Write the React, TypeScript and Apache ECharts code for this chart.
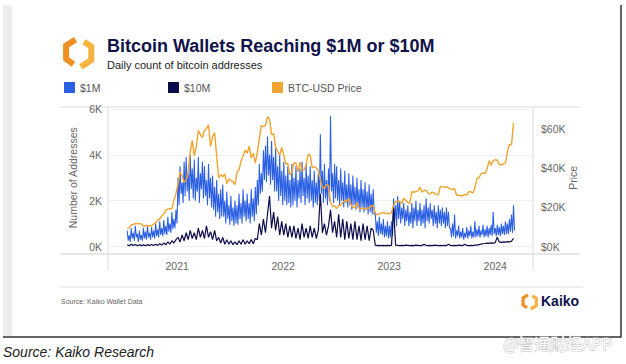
import React, { useEffect, useRef } from 'react';
import * as echarts from 'echarts';

// Weekly samples starting Monday 2020-07-13.
// $1M addresses: weekly high (early week) and weekly low (late week)
const blueHigh = [
  700, 500, 800, 600, 900, 550, 700, 500, 800, 650, 900, 600, 850, 700, 1000, 750, 1100, 800, 1150, 900, 1300, 1000, 1500, 1200, 1600,
  3000, 3500, 2800, 3700,
  3900, 3200, 4000, 3400,
  3800, 3000, 3900, 3200, 3700,
  3500, 2900, 3600, 3000,
  3100, 2600, 2900, 2300, 2500,
  2700, 2000, 2400, 1800, 2200, 1700, 2000, 1800, 2300, 1900, 2500, 2000, 2300, 1900, 2500, 2100, 2600,
  2900, 3600, 3200, 4200,
  4400, 4800, 4000, 4600, 3900,
  4300, 3500, 4000, 3300,
  3700, 3100, 3500, 2900,
  3600, 3000, 3500, 2900, 3400, 3700, 3000, 3600, 3100, 3500, 2900, 3300, 2800,
  3200, 4900, 3300, 3600, 2900,
  3400, 5700, 3200, 3600,
  3500, 2900, 3400, 2800, 3300, 2700, 3200, 2700, 3100, 2600, 3000, 2500, 2900, 2500, 2800, 2400, 2700, 2300,
  2500, 1500, 1100, 1300,
  1000, 1200, 900, 1100,
  900, 1100, 2100, 1800, 2200,
  2000, 1700, 1900, 1600, 1800, 1500, 1900, 1700, 2000, 1600, 1900, 1600, 1800, 2100, 1700, 1900, 1600, 1800, 1500, 1800, 1600, 1700, 1500, 1700, 1500,
  800, 1000, 1400, 700, 900, 650, 800, 600, 850, 700, 900, 650, 1100, 750, 900, 700, 950, 750, 900, 800, 950, 1500, 800, 950, 850, 1000, 900, 1100, 1000, 1200, 1400, 1800,
];
const blueLow = [
  250, 200, 350, 250, 400, 200, 300, 250, 350, 300, 400, 300, 400, 350, 450, 400, 500, 450, 550, 500, 650, 600, 750, 800, 1000,
  1800, 2300, 1900, 2200,
  2400, 2000, 2500, 2100,
  2000, 2400, 1900, 2500, 2100,
  2200, 1800, 2100, 1700,
  1600, 1300, 1500, 1200, 1300,
  1300, 1000, 1200, 950, 1100, 900, 1000, 950, 1200, 1000, 1300, 1100, 1200, 1000, 1300, 1100, 1400,
  1800, 2300, 2400, 2900,
  2800, 3100, 2700, 2900, 2400,
  2400, 2000, 2200, 1800,
  2000, 1800, 1900, 1700,
  1800, 2000, 1700, 2100, 1900, 2200, 1800, 2100, 1900, 2000, 1700, 1900, 1800,
  2000, 2300, 1900, 2100, 1800,
  2000, 2400, 1900, 2100,
  2000, 1800, 2000, 1700, 1900, 1700, 1800, 1600, 1800, 1600, 1700, 1500, 1700, 1500, 1600, 1400, 1500, 1400,
  1400, 600, 450, 550,
  500, 400, 450, 350,
  400, 450, 1100, 900, 1200,
  1000, 1200, 900, 1100, 900, 1000, 800, 1100, 900, 1100, 900, 1000, 800, 1100, 1000, 1200, 900, 1000, 800, 1000, 900, 1000, 800, 900, 800,
  400, 450, 350, 450, 350, 400, 300, 400, 350, 450, 350, 400, 400, 450, 400, 500, 400, 450, 400, 500, 450, 550, 450, 500, 450, 550, 500, 550, 550, 650, 600, 700,
];

// $10M addresses, weekly
const navyVals = [
  80, 30, 100, 40, 90, 30, 80, 40, 70, 30, 80, 40, 90, 40, 100, 50, 120, 60, 150, 80, 200, 100, 250, 150, 300,
  400, 200, 500, 250, 600, 300, 700, 350, 600, 300, 800, 400, 700, 350, 900, 400, 650, 300, 700, 250, 400, 150,
  400, 100, 300, 100, 250, 80, 200, 80, 250, 100, 300, 100, 250, 120, 300, 120, 350,
  300, 1000, 500, 1200, 600, 1400, 2200, 800, 1500, 700, 1300, 500, 1100, 500, 1000, 400, 900,
  400, 900, 350, 800, 300, 1000, 400, 800, 350, 900, 400, 800, 350,
  700, 2300, 600, 1000, 500, 900, 1600, 600, 1100,
  400, 1400, 400, 1200, 300, 1100, 350, 1000, 300, 1100, 300, 900, 250, 1000, 300, 900, 250, 800,
  700, 60, 40, 50, 40, 50, 40, 50, 40, 50, 1700,
  60, 50, 40, 50, 40, 60, 50, 40, 50, 40, 60, 50, 40, 50, 100, 50, 40, 50, 40, 60,
  50, 40, 50, 40, 50, 40, 100, 50, 40, 50, 40, 60, 50, 40, 100, 50, 40, 50, 40, 60,
  60, 80, 100, 120, 130, 150, 140, 160, 150, 170, 400, 200, 180, 200, 190, 210, 200, 230, 350,
];

// BTC-USD price, thousands of dollars, weekly
const priceVals = [
  9.2, 9.5, 11.0, 11.2, 11.6, 11.8, 11.5, 11.6, 10.3, 10.8, 10.5, 10.7, 10.6, 11.4, 12.0, 13.5, 14.0, 15.5, 16.5, 18.5, 19.0, 19.2, 19.3, 23.5, 27.0,
  32.0, 38.0, 36.0, 32.5, 34.0, 38.5, 48.0, 54.0, 46.0, 51.0, 59.0, 57.0, 55.5, 59.0, 60.0, 62.0, 51.0, 56.0, 58.0, 46.0, 35.0, 36.5,
  35.5, 37.0, 32.0, 34.5, 33.5, 33.0, 31.5, 38.0, 39.0, 43.5, 46.0, 49.0, 47.5, 51.0, 45.0, 47.5, 42.5,
  48.0, 55.0, 61.5, 61.0, 61.5, 66.0, 65.0, 57.0, 57.5, 50.5, 48.5, 46.5, 50.5,
  46.5, 42.0, 42.5, 36.5, 38.0, 42.5, 42.5, 38.0, 43.0, 38.5, 39.0, 41.5, 47.0, 46.5, 40.0, 40.5, 40.0,
  38.5, 34.0, 30.0, 29.5, 31.5, 31.0, 22.5, 20.5, 20.7,
  19.3, 20.8, 21.0, 22.5, 23.3, 23.2, 24.3, 21.4, 20.0, 19.8, 22.4, 19.4, 19.2, 19.6, 19.2, 19.5, 19.6, 20.6,
  20.9, 16.6, 16.3, 16.4, 17.1, 17.2, 16.8, 16.8,
  16.7, 17.4, 21.0, 22.8, 23.0, 22.9, 21.8, 24.6, 23.5, 22.4, 22.0, 28.0, 27.5, 28.1, 28.3, 30.3, 27.6, 28.5, 28.7, 27.0, 26.9, 27.7, 27.2, 26.4, 26.3, 30.5,
  30.5, 30.3, 30.3, 29.9, 29.2, 29.0, 29.4, 26.1, 26.1, 25.8, 25.8, 26.5, 26.2, 27.9, 27.9, 27.1, 30.0, 34.5, 35.0, 37.0, 37.4, 37.2, 39.5, 43.7, 41.4, 43.6,
  44.2, 43.9, 41.6, 41.6, 42.0, 42.6, 48.3, 52.0, 51.7, 63.0,
];

const seriesNames = ['$1M', '$10M', 'BTC-USD Price'];
const leftTicks = [0, 2000, 4000, 6000];
const rightTicks = [0, 20, 40, 60];
const X_MIN = '2020-05-08';
const X_MAX = '2024-05-10';

const DAY = 86400000;
const START_MS = Date.UTC(2020, 6, 13);
const weekStart = priceVals.map((_, i) => START_MS + i * 7 * DAY);

const BLUE = '#2b5fe3';
const NAVY = '#0c0c4a';
const ORANGE = '#f2a431';
const FONT = '"Liberation Sans", Arial, Helvetica, sans-serif';

export default function App() {
  const ref = useRef<HTMLDivElement>(null);
  useEffect(() => {
    if (!ref.current) return;
    const chart = echarts.init(ref.current, undefined, { renderer: 'svg' });

    const blueData: [number, number][] = [];
    weekStart.forEach((t, i) => {
      blueData.push([t, blueHigh[i]]);
      blueData.push([t + 3.5 * DAY, blueLow[i]]);
    });
    const navyData = weekStart.map((t, i) => [t, navyVals[i]]);
    const priceData = weekStart.map((t, i) => [t, priceVals[i]]);

    const legendBase = {
      orient: 'horizontal', icon: 'rect', itemWidth: 11, itemHeight: 11, itemGap: 6, top: 82, padding: 0,
      textStyle: { color: '#555', fontSize: 10.5, fontFamily: FONT }, selectedMode: false,
    };
    const hexLeft = (ox: number, oy: number, s: number) => [
      [ox + 11 * s, oy + 1.5 * s], [ox + 2 * s, oy + 7 * s], [ox + 2 * s, oy + 20 * s], [ox + 9 * s, oy + 25 * s],
    ];
    const hexRight = (ox: number, oy: number, s: number) => [
      [ox + 16 * s, oy + 27.5 * s], [ox + 26 * s, oy + 21 * s], [ox + 26 * s, oy + 8 * s], [ox + 19 * s, oy + 3.5 * s],
    ];
    const axisText = { color: '#666', fontSize: 10.5, fontFamily: FONT };
    const option: any = {
      animation: false,
      backgroundColor: '#ffffff',
      textStyle: { fontFamily: FONT },
      legend: [
        { ...legendBase, left: 64, data: [seriesNames[0]] },
        { ...legendBase, left: 168, data: [seriesNames[1]] },
        { ...legendBase, left: 272, data: [seriesNames[2]] },
      ],
      grid: { left: 108, right: 93, top: 109, bottom: 117.5 },
      xAxis: {
        type: 'time',
        min: X_MIN,
        max: X_MAX,
        splitNumber: 4,
        axisLine: { show: false },
        axisTick: { show: false },
        splitLine: { show: false },
        axisLabel: {
          formatter: (v: number) => {
            const d = new Date(v);
            return d.getUTCMonth() === 0 && d.getUTCDate() === 1 ? String(d.getUTCFullYear()) : '';
          },
          showMinLabel: false,
          showMaxLabel: false,
          margin: 14,
          ...axisText,
        },
      },
      yAxis: [
        {
          type: 'value',
          min: leftTicks[0],
          max: leftTicks[leftTicks.length - 1],
          interval: 2000,
          position: 'left',
          axisLine: { show: false },
          axisTick: { show: false },
          splitLine: { lineStyle: { color: '#efefef', width: 1 } },
          axisLabel: { formatter: (v: number) => v / 1000 + 'K', margin: 6, ...axisText },
          name: 'Number of Addresses',
          nameLocation: 'middle',
          nameGap: 27,
          nameRotate: 90,
          nameTextStyle: axisText,
        },
        {
          type: 'value',
          min: rightTicks[0],
          max: 70,
          interval: 20,
          position: 'right',
          axisLine: { show: false },
          axisTick: { show: false },
          splitLine: { show: false },
          axisLabel: {
            formatter: (v: number) => (rightTicks.indexOf(v) >= 0 ? '$' + v + 'K' : ''),
            showMaxLabel: false,
            margin: 8,
            ...axisText,
          },
          name: 'Price',
          nameLocation: 'middle',
          nameGap: 34,
          nameRotate: 90,
          nameMoveOverlap: false,
          nameTextStyle: axisText,
        },
      ],
      series: [
        { name: seriesNames[0], type: 'line', data: blueData, yAxisIndex: 0, showSymbol: false, symbol: 'none', color: BLUE, lineStyle: { color: BLUE, width: 1.05 } },
        { name: seriesNames[1], type: 'line', data: navyData, yAxisIndex: 0, showSymbol: false, symbol: 'none', color: NAVY, lineStyle: { color: NAVY, width: 1.2 } },
        { name: seriesNames[2], type: 'line', data: priceData, yAxisIndex: 1, showSymbol: false, symbol: 'none', color: ORANGE, lineStyle: { color: ORANGE, width: 1.4 } },
      ],
      graphic: [
        { type: 'rect', shape: { x: 3, y: 5, width: 9, height: 332 }, style: { fill: '#ededed' }, silent: true },
        { type: 'line', shape: { x1: 621, y1: 5, x2: 621, y2: 337.5 }, style: { stroke: '#333', lineWidth: 1.5 }, silent: true },
        { type: 'line', shape: { x1: 3, y1: 337, x2: 621, y2: 337 }, style: { stroke: '#333', lineWidth: 1.5 }, silent: true },
        { type: 'polyline', shape: { points: hexLeft(64, 38, 1.05) }, style: { stroke: '#ef8f22', lineWidth: 6, fill: 'none', lineJoin: 'miter' }, silent: true },
        { type: 'polyline', shape: { points: hexRight(64, 38, 1.05) }, style: { stroke: '#f6b340', lineWidth: 6, fill: 'none', lineJoin: 'miter' }, silent: true },
        { type: 'text', x: 107, y: 37, style: { text: 'Bitcoin Wallets Reaching $1M or $10M', fill: '#10134a', font: `bold 18px ${FONT}` }, silent: true },
        { type: 'text', x: 107, y: 59, style: { text: 'Daily count of bitcoin addresses', fill: '#222', font: `11px ${FONT}` }, silent: true },
        { type: 'line', shape: { x1: 60, y1: 107, x2: 580, y2: 107 }, style: { stroke: '#dcdcdc', lineWidth: 1 }, silent: true },
        { type: 'line', shape: { x1: 60, y1: 254, x2: 580, y2: 254 }, style: { stroke: '#cfcfcf', lineWidth: 1.2 }, silent: true },
        { type: 'line', shape: { x1: 108, y1: 107, x2: 108, y2: 270 }, style: { stroke: '#dcdcdc', lineWidth: 1 }, silent: true },
        { type: 'line', shape: { x1: 533, y1: 107, x2: 533, y2: 270 }, style: { stroke: '#dcdcdc', lineWidth: 1 }, silent: true },
        { type: 'line', shape: { x1: 60, y1: 287, x2: 583, y2: 287 }, style: { stroke: '#dcdcdc', lineWidth: 1 }, silent: true },
        { type: 'text', x: 61, y: 298, style: { text: 'Source: Kaiko Wallet Data', fill: '#666', font: `7px ${FONT}` }, silent: true },
        { type: 'polyline', shape: { points: hexLeft(522, 294, 0.55) }, style: { stroke: '#ef8f22', lineWidth: 3.2, fill: 'none' }, silent: true },
        { type: 'polyline', shape: { points: hexRight(522, 294, 0.55) }, style: { stroke: '#f6b340', lineWidth: 3.2, fill: 'none' }, silent: true },
        { type: 'text', x: 541, y: 294, style: { text: 'Kaiko', fill: '#10134a', font: `bold 14px ${FONT}` }, silent: true },
        { type: 'text', x: 3, y: 345, style: { text: 'Source: Kaiko Research', fill: '#222', font: `italic 14px ${FONT}` }, silent: true },
        { type: 'text', x: 503, y: 335, style: { text: '@智通财经APP', fill: '#ffffff', stroke: '#bdbdbd', lineWidth: 0.9, font: `16px "Noto Sans CJK SC", sans-serif` }, silent: true },
      ],
    };
    chart.setOption(option);
    return () => chart.dispose();
  }, []);
  return <div ref={ref} style={{ position: 'fixed', left: 0, top: 0, width: 626, height: 364 }} />;
}
